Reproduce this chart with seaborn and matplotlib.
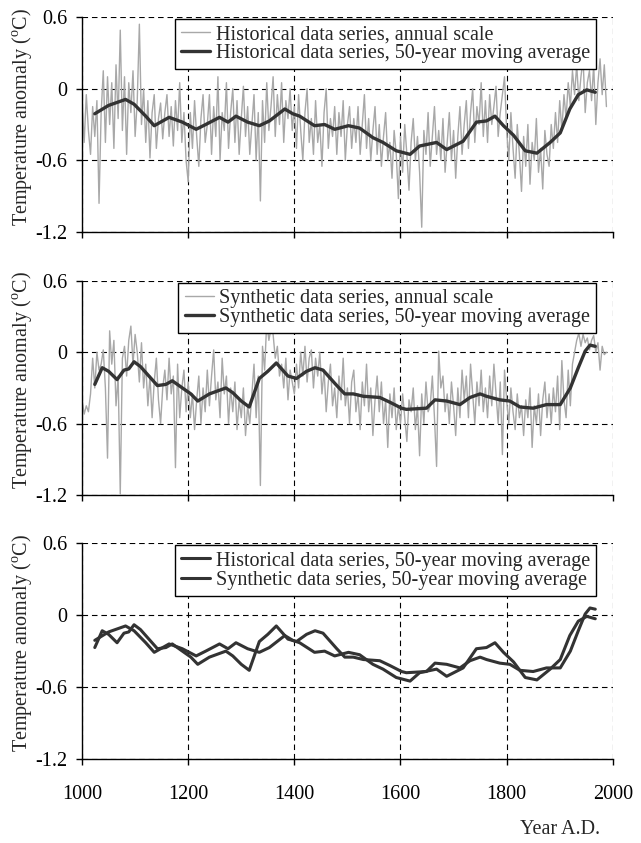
import numpy as np
import pandas as pd
import seaborn as sns
import matplotlib.pyplot as plt

# annual values, every 4th year from 1000 to 1988
annual_years = np.arange(1000, 1989, 4)

hist_annual = [
    -0.10, -0.45, -0.05, -0.35, -0.55, -0.15, -0.40, -0.10, -0.96, -0.20,
    0.15, -0.45, 0.10, -0.30, 0.05, -0.50, 0.20, -0.25, 0.49, -0.35,
    0.10, -0.55, 0.05, -0.20, 0.15, -0.40, -0.10, 0.54, -0.30, 0.00,
    -0.45, -0.10, -0.58, -0.20, -0.05, -0.50, -0.25, -0.12, -0.42, -0.20,
    -0.05, -0.40, -0.15, -0.48, -0.10, -0.35, 0.05, -0.45, -0.20, -0.60,
    -0.78, -0.20, -0.50, -0.10, -0.40, -0.65, -0.25, -0.05, -0.45, -0.30,
    -0.05, -0.55, -0.15, -0.40, 0.10, -0.60, -0.20, -0.35, 0.05, -0.50,
    -0.20, 0.00, -0.45, -0.10, -0.55, -0.25, 0.02, -0.40, -0.15, -0.55,
    -0.30, -0.05, -0.60, -0.20, -0.94, -0.10, -0.45, 0.05, -0.35, -0.15,
    0.10, -0.40, -0.05, -0.30, 0.05, -0.45, -0.10, -0.25, 0.00, -0.35,
    -0.15, -0.50, -0.05, -0.35, -0.60, -0.20, 0.00, -0.45, -0.25, -0.55,
    -0.10, -0.45, -0.30, -0.65, -0.20, 0.00, -0.50, -0.25, -0.40, -0.15,
    -0.55, -0.20, -0.40, -0.10, -0.60, -0.30, -0.15, -0.50, -0.25, -0.45,
    -0.15, -0.55, -0.30, -0.05, -0.50, -0.25, -0.60, -0.35, -0.15, -0.55,
    -0.30, -0.65, -0.40, -0.20, -0.60, -0.45, -0.75, -0.35, -0.55, -0.92,
    -0.40, -0.70, -0.30, -0.55, -0.85, -0.45, -0.25, -0.60, -0.40, -0.70,
    -1.16, -0.35, -0.55, -0.20, -0.65, -0.40, -0.15, -0.55, -0.35, -0.60,
    -0.25, -0.70, -0.45, -0.20, -0.60, -0.35, -0.75, -0.40, -0.15, -0.55,
    -0.30, -0.10, -0.50, -0.20, 0.00, -0.45, -0.15, -0.30, 0.05, -0.40,
    -0.10, -0.45, -0.05, -0.30, -0.15, 0.02, -0.40, -0.20, -0.05, 0.10,
    -0.35, -0.60, -0.20, -0.50, -0.75, -0.30, -0.55, -0.86, -0.40, -0.65,
    -0.30, -0.80, -0.45, -0.60, -0.25, -0.70, -0.50, -0.84, -0.35, -0.55,
    -0.65, -0.30, -0.50, -0.20, -0.45, -0.10, -0.35, -0.05, -0.25, 0.05,
    -0.15, 0.15, -0.05, 0.20, -0.10, 0.10, 0.25, -0.20, 0.05, 0.15,
    -0.10, 0.20, -0.30, 0.05, 0.25, -0.05, 0.20, -0.15,
]

synth_annual = [
    -0.40, -0.52, -0.45, -0.50, -0.35, -0.05, -0.30, 0.00, -0.15, -0.10,
    0.02, -0.30, -0.89, 0.18, -0.10, 0.10, -0.45, -0.20, -1.19, -0.05,
    0.05, -0.20, 0.10, 0.22, -0.10, 0.15, 0.00, -0.25, 0.08, -0.30,
    -0.10, -0.45, -0.20, -0.55, -0.25, -0.05, -0.40, -0.60, -0.30, -0.15,
    -0.40, -0.05, -0.35, -0.20, -0.97, -0.10, -0.55, -0.30, -0.15, -0.50,
    -0.25, -0.55, -0.35, -0.65, -0.40, -0.20, -0.60, -0.30, -0.50, -0.15,
    -0.45, -0.20, 0.02, -0.40, -0.25, -0.55, -0.05, -0.35, -0.20, -0.60,
    -0.30, -0.50, -0.25, -0.65, -0.40, -0.55, -0.30, -0.70, -0.45, -0.60,
    -0.35, -0.10, -0.55, -0.20, -1.12, 0.05, -0.15, 0.26, 0.10, 0.20,
    0.15, -0.05, 0.05, -0.20, -0.10, -0.30, -0.05, -0.40, -0.15, -0.25,
    -0.35, -0.10, -0.30, 0.00, -0.20, 0.05, -0.25, -0.05, 0.02, -0.30,
    -0.05, -0.20, 0.00, -0.35, -0.15, -0.50, -0.25, -0.10, -0.45, -0.30,
    -0.55, -0.20, -0.40, -0.05, -0.45, -0.30, -0.60, -0.25, -0.15, -0.50,
    -0.35, -0.65, -0.25, -0.45, -0.10, -0.50, -0.30, -0.70, -0.40, -0.20,
    -0.50, -0.25, -0.60, -0.40, -0.80, -0.35, -0.55, -0.30, -0.65, -0.45,
    -0.60, -0.35, -0.55, -0.75, -0.40, -0.50, -0.30, -0.65, -0.45, -0.87,
    -0.35, -0.60, -0.25, -0.50, -0.45, -0.20, -0.55, -0.96, 0.01, -0.30,
    -0.20, -0.50, -0.35, -0.60, -0.25, -0.45, -0.70, -0.30, -0.55, -0.15,
    -0.40, -0.20, -0.55, -0.10, -0.35, -0.60, -0.25, -0.45, -0.15, -0.50,
    -0.30, -0.55, -0.20, -0.45, -0.10, -0.35, -0.60, -0.25, -0.86, -0.15,
    -0.40, -0.60, -0.30, -0.50, -0.65, -0.35, -0.55, -0.45, -0.70, -0.40,
    -0.55, -0.30, -0.80, -0.45, -0.60, -0.35, -0.70, -0.40, -0.25, -0.55,
    -0.35, -0.60, -0.30, -0.50, -0.20, -0.65, -0.07, -0.40, -0.55, -0.15,
    -0.45, -0.10, 0.00, 0.10, 0.16, 0.05, 0.15, 0.08, 0.12, 0.02,
    0.10, 0.14, 0.00, 0.08, -0.15, 0.05, -0.02, 0.00,
]

# 50-year moving averages
hist_ma_years = [1024, 1050, 1082, 1098, 1120, 1136, 1164, 1189, 1215, 1233,
                 1259, 1275, 1290, 1312, 1334, 1353, 1382, 1397, 1410, 1438,
                 1457, 1476, 1502, 1523, 1548, 1567, 1592, 1618, 1636, 1668,
                 1687, 1718, 1743, 1762, 1778, 1794, 1813, 1835, 1857, 1882,
                 1901, 1919, 1935, 1951, 1967]
hist_ma = [-0.21, -0.14, -0.09, -0.13, -0.23, -0.31, -0.24, -0.28, -0.34, -0.30,
           -0.24, -0.28, -0.23, -0.28, -0.31, -0.27, -0.17, -0.21, -0.23, -0.31,
           -0.30, -0.34, -0.31, -0.33, -0.41, -0.45, -0.52, -0.55, -0.48, -0.45,
           -0.51, -0.44, -0.28, -0.27, -0.23, -0.31, -0.39, -0.52, -0.54, -0.45,
           -0.37, -0.17, -0.05, -0.01, -0.03]

synth_ma_years = [1024, 1038, 1050, 1066, 1079, 1088, 1098, 1110, 1126, 1142,
                  1158, 1170, 1189, 1205, 1218, 1240, 1271, 1284, 1300, 1315,
                  1334, 1350, 1366, 1388, 1404, 1423, 1439, 1454, 1480, 1495,
                  1511, 1530, 1561, 1580, 1602, 1611, 1649, 1665, 1687, 1712,
                  1731, 1750, 1762, 1787, 1806, 1825, 1850, 1875, 1901, 1920,
                  1935, 1948, 1957, 1967]
synth_ma = [-0.27, -0.13, -0.16, -0.23, -0.15, -0.14, -0.08, -0.12, -0.20, -0.28,
            -0.27, -0.24, -0.30, -0.35, -0.41, -0.35, -0.30, -0.34, -0.41, -0.46,
            -0.22, -0.16, -0.09, -0.20, -0.22, -0.16, -0.13, -0.15, -0.28, -0.35,
            -0.35, -0.37, -0.38, -0.42, -0.47, -0.48, -0.47, -0.40, -0.41, -0.44,
            -0.38, -0.35, -0.37, -0.40, -0.41, -0.46, -0.47, -0.44, -0.44, -0.30,
            -0.13, 0.01, 0.06, 0.05]

xticks = [1000, 1200, 1400, 1600, 1800, 2000]
yticks = [-1.2, -0.6, 0, 0.6]
ytick_labels = ['-1.2', '-0.6', '0', '0.6']

sns.set_style('ticks')
plt.rcParams['font.family'] = ['Liberation Serif', 'DejaVu Serif']
plt.rcParams['mathtext.fontset'] = 'custom'
plt.rcParams['mathtext.rm'] = 'Liberation Serif'

GRAY = '#a8a8a8'
DARK = '#333333'

fig = plt.figure(figsize=(6.41, 8.43), dpi=100)
boxes = [[0.128, 0.7248, 0.828, 0.255],
         [0.128, 0.4128, 0.828, 0.254],
         [0.128, 0.0996, 0.828, 0.256]]
axes = [fig.add_axes(b) for b in boxes]

ax = axes[0]
sns.lineplot(x=annual_years, y=hist_annual, ax=ax, color=GRAY, lw=1.0,
             label='Historical data series, annual scale', estimator=None)
sns.lineplot(x=hist_ma_years, y=hist_ma, ax=ax, color=DARK, lw=2.4,
             label='Historical data series, 50-year moving average', estimator=None)

ax = axes[1]
sns.lineplot(x=annual_years, y=synth_annual, ax=ax, color=GRAY, lw=1.0,
             label='Synthetic data series, annual scale', estimator=None)
sns.lineplot(x=synth_ma_years, y=synth_ma, ax=ax, color=DARK, lw=2.4,
             label='Synthetic data series, 50-year moving average', estimator=None)

ax = axes[2]
sns.lineplot(x=hist_ma_years, y=hist_ma, ax=ax, color=DARK, lw=2.2,
             label='Historical data series, 50-year moving average', estimator=None)
sns.lineplot(x=synth_ma_years, y=synth_ma, ax=ax, color=DARK, lw=2.2,
             label='Synthetic data series, 50-year moving average', estimator=None)

for i, ax in enumerate(axes):
    ax.set_xlim(1000, 2000)
    ax.set_ylim(-1.2, 0.6)
    ax.set_xticks(xticks)
    ax.set_yticks(yticks)
    ax.set_yticklabels(ytick_labels)
    ax.set_axisbelow(True)
    ax.grid(True, color='black', ls=(0, (5, 3.5)), lw=0.8)
    for s in ['top', 'right']:
        ax.spines[s].set_visible(False)
    for s in ['left', 'bottom']:
        ax.spines[s].set_linewidth(1.0)
        ax.spines[s].set_color('black')
    ax.tick_params(axis='both', direction='out', length=4, width=1.0,
                   labelsize=14.5, colors='black')
    ax.tick_params(axis='y', pad=6.5)
    ax.tick_params(axis='x', pad=15)
    if i < 2:
        ax.set_xticklabels([])
    ax.set_xlabel('')
    ax.set_ylabel(r'Temperature anomaly ($^{\mathrm{o}}$C)', fontsize=14.5)
    ax.yaxis.set_label_coords(-0.09, 0.535)
    leg = ax.legend(loc='upper right', bbox_to_anchor=(0.968, 0.99),
                    borderaxespad=0, fontsize=14.5, frameon=True, fancybox=False,
                    framealpha=1, edgecolor='black', labelspacing=0.0,
                    handlelength=1.45, handletextpad=0.25, borderpad=0.3)
    leg.get_frame().set_linewidth(1.0)

fig.text(0.936, 1 - 830 / 843, 'Year A.D.', ha='right', va='center', fontsize=14.5)

fig.savefig('out.png', dpi=100)
